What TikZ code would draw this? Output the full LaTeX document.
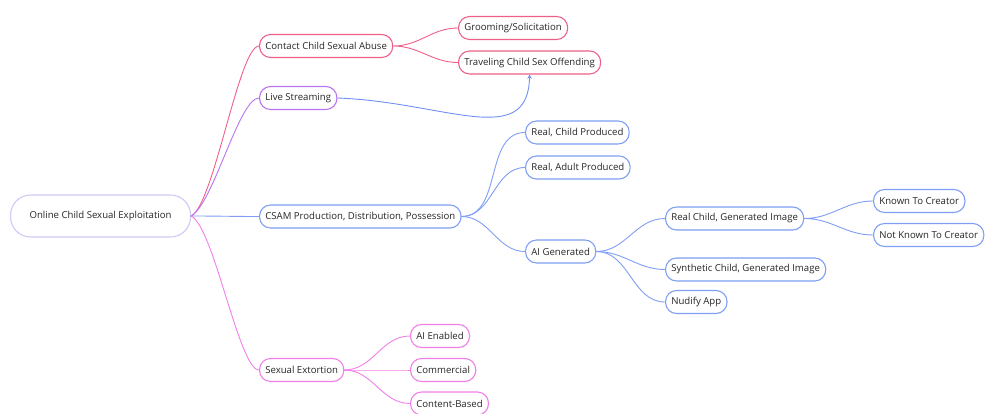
\documentclass[tikz,border=0pt]{standalone}
\usepackage{fontspec}
\setmainfont{Open Sans}
\definecolor{mmroot}{HTML}{CCCAF6}
\definecolor{mmred}{HTML}{EE6088}
\definecolor{mmpurple}{HTML}{B873F0}
\definecolor{mmblue}{HTML}{7F9EF4}
\definecolor{mmpink}{HTML}{F07FE8}
\begin{document}
\begin{tikzpicture}[x=1pt, y=-1pt, line cap=round, line join=round, >=stealth,
	font=\fontsize{9.6}{11}\selectfont,
	box/.style={draw, rounded corners=11pt, minimum height=23pt, inner xsep=5.8pt, fill=white, line width=1.1pt, anchor=west, text=black!85},
	link/.style={line width=0.9pt, out=0, in=180},
	rootlink/.style={link, out distance=25pt, in distance=20pt}]
	\useasboundingbox (0,0) rectangle (993,414);
	
	% root
	\node[box, draw=mmroot, rounded corners=20pt, minimum height=42pt, minimum width=180pt] (root) at (10,216) {Online Child Sexual Exploitation};
	
	% first level
	\node[box, draw=mmred] (contact) at (259,46) {Contact Child Sexual Abuse};
	\node[box, draw=mmpurple] (live) at (259,98) {Live Streaming};
	\node[box, draw=mmblue] (csam) at (259,216.5) {CSAM Production, Distribution, Possession};
	\node[box, draw=mmpink] (sext) at (259,370) {Sexual Extortion};
	
	% contact abuse
	\node[box, draw=mmred] (groom) at (458,28) {Grooming/Solicitation};
	\node[box, draw=mmred] (travel) at (458,62.5) {Traveling Child Sex Offending};
	
	% csam
	\foreach \y/\n/\t in {132.5/rcp/{Real, Child Produced}, 167.5/rap/{Real, Adult Produced}, 251.5/aig/{AI Generated}}
		\node[box, draw=mmblue] (\n) at (525,\y) {\t};
	\foreach \y/\n/\t in {218.5/rcg/{Real Child, Generated Image}, 269.5/scg/{Synthetic Child, Generated Image}, 302/nud/{Nudify App}}
		\node[box, draw=mmblue] (\n) at (665,\y) {\t};
	\node[box, draw=mmblue] (known) at (873,201) {Known To Creator};
	\node[box, draw=mmblue] (notknown) at (873,235) {Not Known To Creator};
	
	% sextortion
	\foreach \y/\n/\t in {336/aie/{AI Enabled}, 370/com/{Commercial}, 403.5/cbs/{Content-Based}}
		\node[box, draw=mmpink] (\n) at (410,\y) {\t};
	
	% links
	\draw[rootlink, mmred, out=25] (root.east) to (contact.west);
	\draw[rootlink, mmpurple, out=28] (root.east) to (live.west);
	\draw[link, mmblue] (root.east) to (csam.west);
	\draw[rootlink, mmpink, out=-25] (root.east) to (sext.west);
	
	\draw[link, mmred] (contact.east) to (groom.west) (contact.east) to (travel.west);
	
	\foreach \n in {rcp, rap, aig}
		\draw[link, mmblue] (csam.east) to (\n.west);
	\foreach \n in {rcg, scg, nud}
		\draw[link, mmblue] (aig.east) to (\n.west);
	\draw[link, mmblue] (rcg.east) to (known.west) (rcg.east) to (notknown.west);
	
	\foreach \n in {aie, com, cbs}
		\draw[link, mmpink] (sext.east) to (\n.west);
	
	\draw[->, line width=0.9pt, mmblue!90!blue] (live.east) .. controls (445,102) and (528,150) .. (travel.south);
\end{tikzpicture}
\end{document}
